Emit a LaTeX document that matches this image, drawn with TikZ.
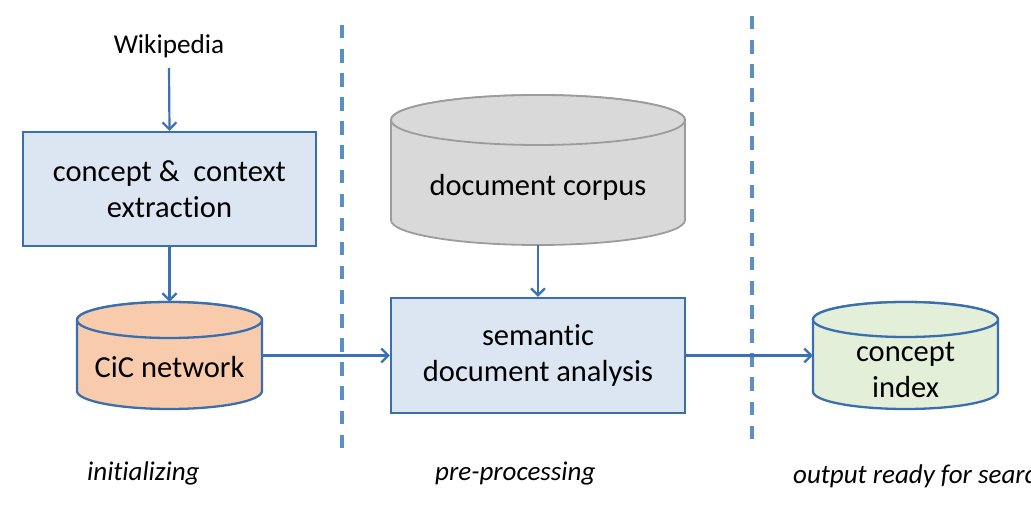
\documentclass[tikz,border=0pt]{standalone}
\usepackage{fontspec}
\setmainfont{Carlito}[Ligatures=NoCommon]
\usetikzlibrary{arrows.meta}
\definecolor{boxfill}{HTML}{DCE6F2}
\definecolor{boxline}{HTML}{3A6FAE}
\definecolor{arrowc}{HTML}{3A70B4}
\definecolor{dashc}{HTML}{5C8FC8}
\definecolor{cicfill}{HTML}{F8CBAD}
\definecolor{idxfill}{HTML}{E4EFDA}
\definecolor{corpfill}{HTML}{D9D9D9}
\definecolor{corpline}{HTML}{9C9C9C}
\newcommand\cylshape[6]{%
  \path[#6] (#1-#4,#2+#5) -- (#1-#4,#3-#5) arc(180:0:#4 and #5) -- (#1+#4,#2+#5) arc(0:-180:#4 and #5) -- cycle;
  \path[#6] (#1,#2+#5) ellipse (#4 and #5);
}
\begin{document}
\begin{tikzpicture}[x=1pt,y=-1pt,
  procbox/.style={draw=boxline, fill=boxfill, line width=2.3pt, inner sep=0pt, align=center, font=\fontsize{30.5}{36}\selectfont},
  cylnode/.style={inner sep=0pt},
  cyltext/.style={inner sep=0pt, align=center, font=\fontsize{30.5}{36}\selectfont},
  flow/.style={draw=arrowc, line width=2.2pt, -{Straight Barb[length=7pt,width=14pt]}},
  divider/.style={draw=dashc, line width=3.5pt, dash pattern=on 13.5pt off 10.6pt},
  phase/.style={font=\fontsize{27}{30}\selectfont\itshape, inner sep=0pt, anchor=base west},
  cicstyle/.style={draw=boxline, fill=cicfill, line width=2.3pt},
  idxstyle/.style={draw=boxline, fill=idxfill, line width=2.3pt},
  corpstyle/.style={draw=corpline, fill=corpfill, line width=1.8pt},
]
\useasboundingbox (0,0) rectangle (1031,518);
\clip (0,0) rectangle (1031,518);

% dividers
\coordinate (d1top) at (342,25);
\coordinate (d1bot) at (342,448);
\coordinate (d2top) at (752,16);
\coordinate (d2bot) at (752,440);
\draw[divider] (d1top) -- (d1bot);
\draw[divider] (d2top) -- (d2bot);

% source
\node[font=\fontsize{27.2}{30}\selectfont, inner sep=0pt] (wiki) at (169,46) {Wikipedia};

% extraction box
\node[procbox, minimum width=293pt, minimum height=114pt] (extract) at (169.5,189) {concept \& \ context\\extraction};

% CiC network cylinder
\cylshape{169.5}{302}{409}{92.5}{18}{cicstyle}
\node[cylnode, minimum width=185pt, minimum height=107pt] (cic) at (169.5,355.5) {};
\node[cyltext] (cictext) at (169.5,367) {CiC network};

% document corpus cylinder
\cylshape{538}{95}{245}{147}{25}{corpstyle}
\node[cylnode, minimum width=294pt, minimum height=150pt] (corpus) at (538,170) {};
\node[cyltext] (corptext) at (538,187) {document corpus};

% semantic analysis box
\node[procbox, minimum width=294pt, minimum height=115pt] (semantic) at (538,355.5) {semantic\\document analysis};

% concept index cylinder
\cylshape{905.5}{302}{409}{92.5}{17.5}{idxstyle}
\node[cylnode, minimum width=185pt, minimum height=107pt] (index) at (905.5,355.5) {};
\node[cyltext] (idxtext) at (905.5,370) {concept\\index};

% connectors
\draw[flow] (wiki) ++(0,22) -- (extract.north);
\draw[flow] (extract.south) -- (cic.north);
\draw[flow] (cic.east) -- (semantic.west);
\draw[flow] (corpus.south) -- (semantic.north);
\draw[flow] (semantic.east) -- (index.west);

% phase labels
\node[phase] (ph1) at (87,480) {initializing};
\node[phase] (ph2) at (435,480) {pre-processing};
\node[phase] (ph3) at (793,483) {output ready for search};
\end{tikzpicture}
\end{document}
